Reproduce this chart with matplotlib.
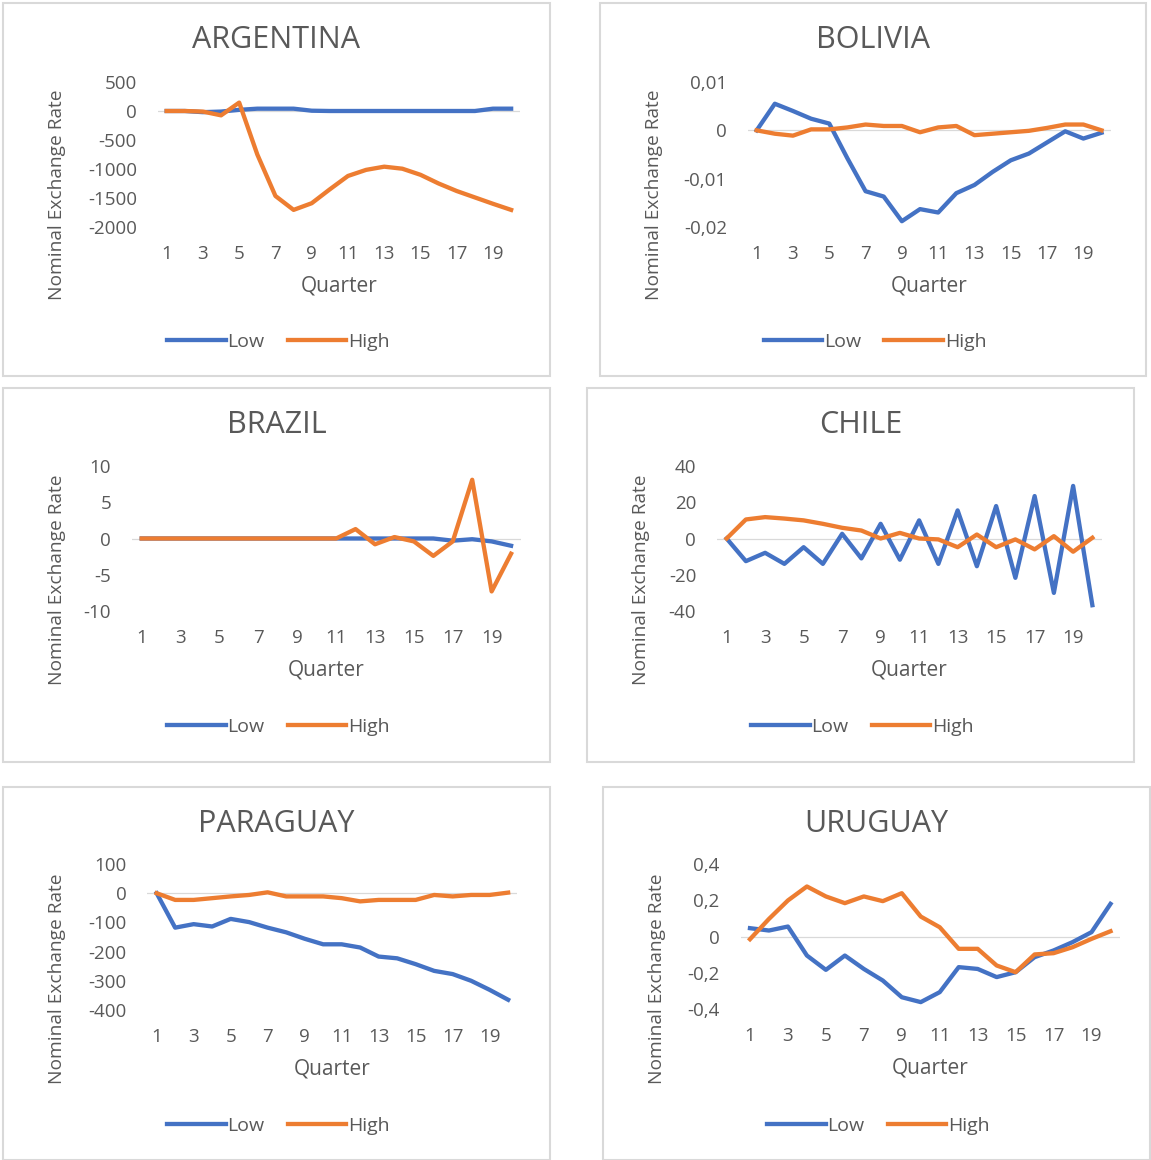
import matplotlib.pyplot as plt
from matplotlib.patches import Rectangle
from matplotlib.lines import Line2D

plt.rcParams['font.family'] = ['Open Sans', 'DejaVu Sans']
plt.rcParams['axes.unicode_minus'] = False

quarters = list(range(1, 21))

countries = ["ARGENTINA", "BOLIVIA", "BRAZIL", "CHILE", "PARAGUAY", "URUGUAY"]

arg_low = [0, 0, -20, -10, 20, 40, 40, 40, 5, 0, 0, 0, 0, 0, 0, 0, 0, 0, 40, 40]
arg_high = [0, 0, -10, -75, 145, -750, -1465, -1705, -1590, -1350, -1120, -1015,
            -960, -995, -1100, -1250, -1380, -1490, -1600, -1705]

bol_low = [0, 0.0055, 0.004, 0.0024, 0.0014, -0.0058, -0.0126, -0.0137, -0.0188,
           -0.0163, -0.017, -0.013, -0.0113, -0.0086, -0.0062, -0.0048, -0.0025,
           -0.0002, -0.0017, -0.0005]
bol_high = [0, -0.0007, -0.0011, 0.0002, 0.0002, 0.0006, 0.0012, 0.0009, 0.0009,
            -0.0004, 0.0006, 0.0009, -0.001, -0.0007, -0.0004, -0.0001, 0.0005,
            0.0012, 0.0012, 0]

bra_low = [0, 0, 0, 0, 0, 0, 0, 0, 0, 0, 0, 0, 0, 0, 0, 0, -0.3, -0.1, -0.4, -1.0]
bra_high = [0, 0, 0, 0, 0, 0, 0, 0, 0, 0, 0, 1.3, -0.8, 0.2, -0.4, -2.4, -0.4,
            8.1, -7.3, -2.1]

chi_low = [0, -12.5, -7.9, -14, -4.8, -14, 2.6, -11, 8.1, -11.7, 10, -14, 15.5,
           -15.3, 17.9, -21.7, 23.4, -30, 29, -36.8]
chi_high = [0, 10.5, 11.8, 11, 10, 8.1, 5.9, 4.4, 0, 3.1, 0, -0.5, -4.8, 2.2,
            -4.8, -0.5, -6, 1.3, -7.3, 0.4]

par_low = [0, -118, -106, -114, -88, -99, -118, -134, -156, -175, -175, -186,
           -217, -223, -243, -266, -277, -300, -331, -365]
par_high = [0, -23, -23, -17, -11, -6, 3, -11, -11, -11, -17, -28, -23, -23, -23,
            -6, -11, -6, -6, 2]

uru_low = [0.046, 0.033, 0.055, -0.105, -0.184, -0.105, -0.179, -0.243, -0.335,
           -0.362, -0.307, -0.169, -0.179, -0.224, -0.197, -0.114, -0.077, -0.031,
           0.024, 0.18]
uru_high = [-0.015, 0.097, 0.199, 0.276, 0.221, 0.184, 0.221, 0.195, 0.239, 0.11,
            0.051, -0.068, -0.068, -0.16, -0.197, -0.099, -0.092, -0.059, -0.013,
            0.029]

lows = [arg_low, bol_low, bra_low, chi_low, par_low, uru_low]
highs = [arg_high, bol_high, bra_high, chi_high, par_high, uru_high]

yticks = [[-2000, -1500, -1000, -500, 0, 500],
          [-0.02, -0.01, 0, 0.01],
          [-10, -5, 0, 5, 10],
          [-40, -20, 0, 20, 40],
          [-400, -300, -200, -100, 0, 100],
          [-0.4, -0.2, 0, 0.2, 0.4]]
ytick_labels = [["-2000", "-1500", "-1000", "-500", "0", "500"],
                ["-0,02", "-0,01", "0", "0,01"],
                ["-10", "-5", "0", "5", "10"],
                ["-40", "-20", "0", "20", "40"],
                ["-400", "-300", "-200", "-100", "0", "100"],
                ["-0,4", "-0,2", "0", "0,2", "0,4"]]
xticks = list(range(1, 21, 2))

# layout in pixels: panel box (x0, y0, x1, y1) and plot area (left, top, right, bottom)
boxes = [(3, 3, 550, 376), (600, 3, 1146, 376),
         (3, 388, 550, 762), (587, 388, 1134, 762),
         (3, 787, 550, 1160), (603, 787, 1150, 1160)]
areas = [(157.6, 82, 520.2, 227), (747.6, 82, 1110.6, 227),
         (132, 466, 520.8, 611), (717, 466, 1102, 611),
         (147.4, 864, 517.4, 1010), (740.5, 864, 1120, 1009)]

W, H = 1151, 1160
BLUE = "#4472C4"
ORANGE = "#ED7D31"
GRAY = "#595959"

fig = plt.figure(figsize=(W / 100, H / 100), dpi=100)


def fx(px):
    return px / W


def fy(py):
    return 1 - py / H


for i in range(6):
    x0, y0, x1, y1 = boxes[i]
    fig.patches.append(Rectangle((fx(x0), fy(y1)), fx(x1) - fx(x0), fy(y0) - fy(y1),
                                 transform=fig.transFigure, fill=False,
                                 edgecolor="#D9D9D9", lw=1.5))
    l, t, r, b = areas[i]
    ax = fig.add_axes([fx(l), fy(b), fx(r) - fx(l), fy(t) - fy(b)])
    ax.axhline(0, color="#D9D9D9", lw=0.9, zorder=1)
    ax.plot(quarters, lows[i], color=BLUE, lw=3.1, label="Low", zorder=3)
    ax.plot(quarters, highs[i], color=ORANGE, lw=3.1, label="High", zorder=3)
    ax.set_xlim(0.5, 20.5)
    ax.set_ylim(yticks[i][0], yticks[i][-1])
    ax.set_yticks(yticks[i])
    ax.set_yticklabels(ytick_labels[i])
    ax.set_xticks(xticks)
    ax.set_xticklabels([str(q) for q in xticks])
    for s in ax.spines.values():
        s.set_visible(False)
    ax.tick_params(length=0, labelsize=13.5, colors=GRAY)
    ax.tick_params(axis="x", pad=13)
    ax.tick_params(axis="y", pad=15)

    fig.text(fx((x0 + x1) / 2), fy(y0 + 37), countries[i], ha="center", va="center",
             fontsize=22, color=GRAY)
    fig.text(fx(x0 + 54), fy(y0 + 192), "Nominal Exchange Rate", rotation=90,
             ha="center", va="center", fontsize=13.8, color=GRAY)
    fig.text(fx((l + r) / 2), fy(b + 59), "Quarter", ha="center", va="center",
             fontsize=15, color=GRAY)
    handles = [Line2D([], [], color=BLUE, lw=3.1), Line2D([], [], color=ORANGE, lw=3.1)]
    leg = ax.legend(handles, ["Low", "High"], loc="center",
                    bbox_to_anchor=(fx((x0 + x1) / 2 + 2), fy(y0 + 339)),
                    bbox_transform=fig.transFigure, ncol=2, frameon=False,
                    fontsize=14, handlelength=3.0, handletextpad=0.1,
                    columnspacing=1.2)
    for txt in leg.get_texts():
        txt.set_color(GRAY)

fig.savefig("out.png", dpi=100)
